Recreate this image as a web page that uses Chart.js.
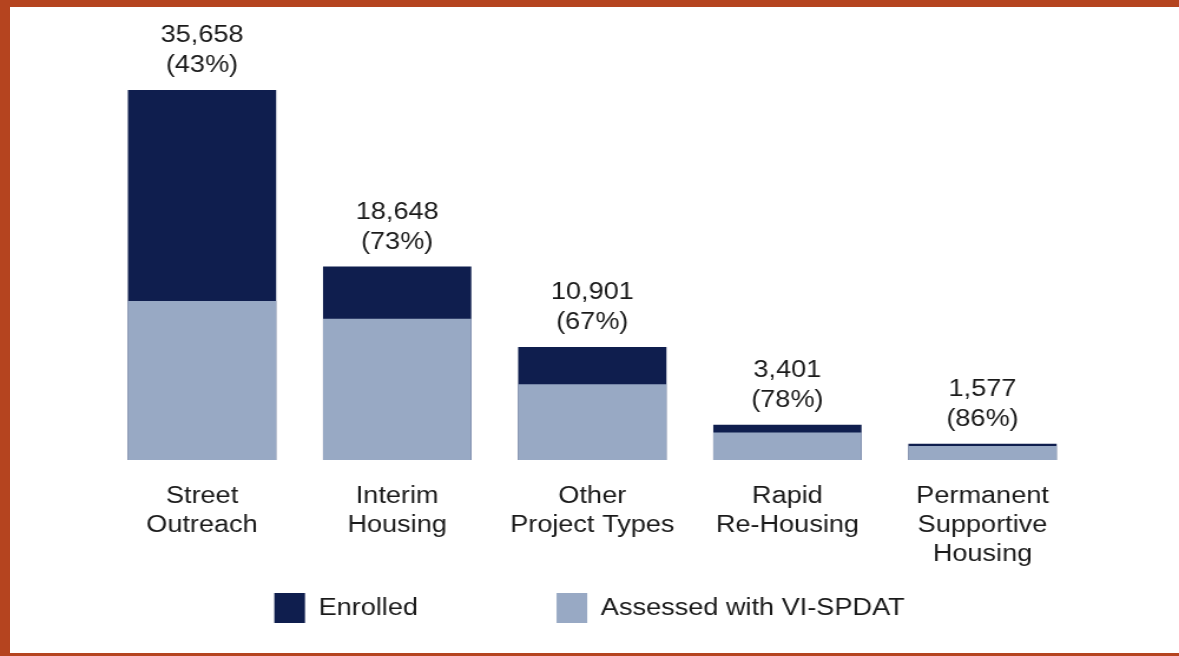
<!DOCTYPE html>
<html>
<head>
<meta charset="utf-8">
<script src="https://cdn.jsdelivr.net/npm/chart.js@4/dist/chart.umd.min.js"></script>
<style>
  html, body { margin: 0; padding: 0; background: #ffffff; }
  #frame {
    position: absolute; left: 0; top: 0; width: 1179px; height: 656px;
    box-sizing: border-box;
    border-top: 7px solid #b5441f;
    border-left: 10px solid #b5441f;
    border-bottom: 3px solid #b5441f;
    background: #ffffff;
  }
  #wrap {
    position: absolute; left: 0; top: 0; width: 1000px; height: 656px;
    transform: scaleX(1.179); transform-origin: 0 0;
  }
</style>
</head>
<body>
<div id="frame"></div>
<div id="wrap"><canvas id="c" width="1000" height="656"></canvas></div>
<script>
// ---- data ----
const categories = [
  ["Street", "Outreach"],
  ["Interim", "Housing"],
  ["Other", "Project Types"],
  ["Rapid", "Re-Housing"],
  ["Permanent", "Supportive", "Housing"]
];
const enrolled = [35658, 18648, 10901, 3401, 1577];
const assessedPct = [43, 73, 67, 78, 86];
const assessed = [15333, 13613, 7304, 2653, 1356];
const seriesNames = ["Enrolled", "Assessed with VI-SPDAT"];

const DARK = '#0f1e4e';
const LIGHT = '#98a9c4';
const TEXT = '#1a1a1a';
const FONT = "'Liberation Sans', Arial, sans-serif";

Chart.defaults.font.family = FONT;
Chart.defaults.color = TEXT;

const labelsPlugin = {
  id: 'barLabels',
  afterDatasetsDraw(chart) {
    const ctx = chart.ctx;
    const meta = chart.getDatasetMeta(0);
    ctx.save();
    ctx.font = "23px " + FONT;
    ctx.fillStyle = TEXT;
    ctx.textAlign = 'center';
    ctx.textBaseline = 'middle';
    meta.data.forEach((bar, i) => {
      const x = bar.x, y = bar.y;
      ctx.fillText(enrolled[i].toLocaleString('en-US'), x, y - 54);
      ctx.fillText('(' + assessedPct[i] + '%)', x, y - 24);
    });
    ctx.restore();
  }
};

const legendPlugin = {
  id: 'customLegend',
  afterDraw(chart) {
    const ctx = chart.ctx;
    ctx.save();
    ctx.font = "23px " + FONT;
    const boxW = 26, boxH = 30, gap = 11.5, pad = 117.5;
    const colors = [DARK, LIGHT];
    const widths = seriesNames.map(n => boxW + gap + ctx.measureText(n).width);
    const total = widths.reduce((a, b) => a + b, 0) + pad * (widths.length - 1);
    let x = chart.width / 2 - total / 2;
    const cy = 608;
    seriesNames.forEach((n, i) => {
      ctx.fillStyle = colors[i];
      ctx.fillRect(x, cy - boxH / 2, boxW, boxH);
      ctx.fillStyle = TEXT;
      ctx.textAlign = 'left';
      ctx.textBaseline = 'middle';
      ctx.fillText(n, x + boxW + gap, cy + 1);
      x += widths[i] + pad;
    });
    ctx.restore();
  }
};

new Chart(document.getElementById('c'), {
  type: 'bar',
  data: {
    labels: categories,
    datasets: [
      { label: seriesNames[0], data: enrolled, backgroundColor: DARK, order: 1,
        categoryPercentage: 1, barPercentage: 0.76, grouped: false },
      { label: seriesNames[1], data: assessed, backgroundColor: LIGHT, order: 0,
        categoryPercentage: 1, barPercentage: 0.76, grouped: false }
    ]
  },
  options: {
    responsive: false,
    animation: false,
    layout: { padding: { left: 88.6, right: 83.9, top: 45, bottom: 66 } },
    plugins: { legend: { display: false }, tooltip: { enabled: false } },
    scales: {
      x: {
        grid: { display: false },
        border: { display: false },
        ticks: {
          padding: 14,
          color: TEXT,
          font: { size: 23, lineHeight: 1.26 },
          maxRotation: 0, autoSkip: false
        },
        afterFit(axis) { axis.height = 130; }
      },
      y: { display: false, min: 0, max: 40000 }
    }
  },
  plugins: [labelsPlugin, legendPlugin]
});
</script>
</body>
</html>
